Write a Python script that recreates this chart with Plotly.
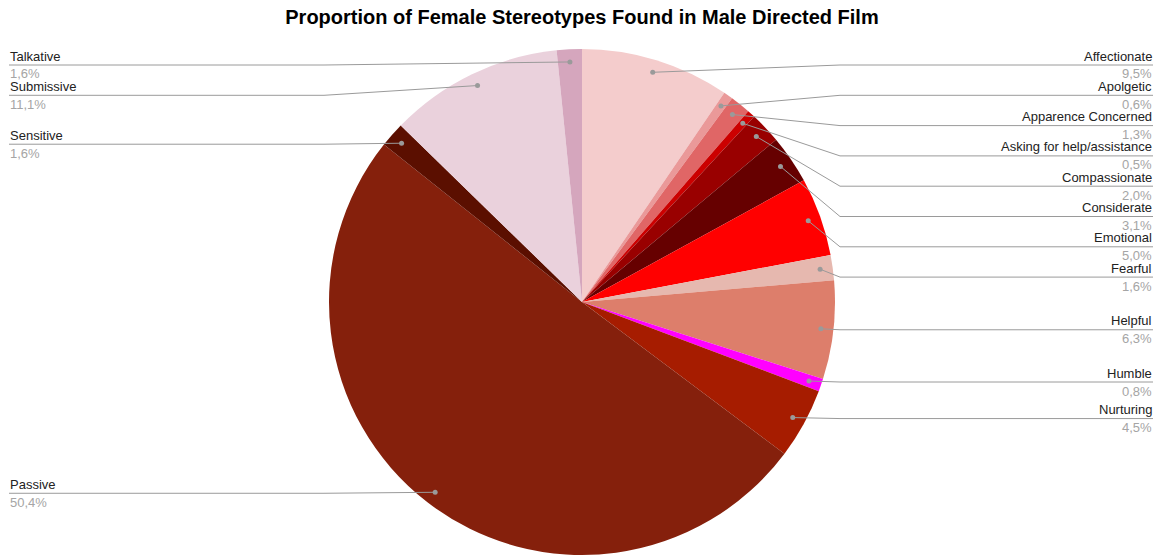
import math
import plotly.graph_objects as go

labels = ["Affectionate", "Apolgetic", "Apparence Concerned", "Asking for help/assistance",
          "Compassionate", "Considerate", "Emotional", "Fearful", "Helpful", "Humble",
          "Nurturing", "Passive", "Sensitive", "Submissive", "Talkative"]
values = [9.5, 0.6, 1.3, 0.5, 2.0, 3.1, 5.0, 1.6, 6.3, 0.8, 4.5, 50.4, 1.6, 11.1, 1.6]
value_text = ["9,5%", "0,6%", "1,3%", "0,5%", "2,0%", "3,1%", "5,0%", "1,6%",
              "6,3%", "0,8%", "4,5%", "50,4%", "1,6%", "11,1%", "1,6%"]
colors = ["#f4cccc", "#ea9999", "#e06666", "#cc0000", "#990000", "#660000", "#ff0000",
          "#e6b8af", "#dd7e6b", "#ff00ff", "#a61c00", "#85200c", "#5b0f00", "#ead1dc", "#d5a6bd"]

W, H = 1157, 558
cx, cy, R = 582, 302, 253   # pie centre / radius in pixels (from top-left)
FONT = "Liberation Sans, Arial, sans-serif"

def px(x):
    return x / W

def py(y):
    return 1 - y / H

fig = go.Figure(go.Pie(
    labels=labels, values=values, sort=False, direction="clockwise", rotation=0,
    marker=dict(colors=colors, line=dict(width=0)),
    textinfo="none", hoverinfo="label+percent", showlegend=False,
    domain=dict(x=[px(cx - R), px(cx + R)], y=[py(cy + R), py(cy - R)]),
))

# leader-line anchors: dot at 95% radius on each slice's mid angle
total = sum(values)
acc = 0
dots = []
for v in values:
    mid = (acc + v / 2) / total * 2 * math.pi
    acc += v
    dots.append((cx + 0.95 * R * math.sin(mid), cy - 0.95 * R * math.cos(mid), mid))

def spread(ideal, top=65, gap=30.3):
    # push overlapping labels apart, keeping groups centred on their ideals
    groups = [[y] for y in ideal]
    def start(g):
        return max(top, sum(g) / len(g) - (len(g) - 1) / 2 * gap)
    merged = True
    while merged:
        merged = False
        for i in range(len(groups) - 1):
            a, b = groups[i], groups[i + 1]
            if start(a) + len(a) * gap > start(b):
                groups[i] = a + b
                del groups[i + 1]
                merged = True
                break
    out = []
    for g in groups:
        s = start(g)
        out += [s + k * gap for k in range(len(g))]
    return out

right = [i for i, d in enumerate(dots) if d[2] < math.pi]
left = sorted([i for i, d in enumerate(dots) if d[2] >= math.pi], key=lambda i: dots[i][1])
line_y = {}
for side in (right, left):
    for i, y in zip(side, spread([dots[i][1] + 1 for i in side])):
        line_y[i] = y

shapes, annotations = [], []
for i in range(len(labels)):
    dx, dy, mid = dots[i]
    ly = line_y[i]
    if mid < math.pi:
        x_edge, x_bend, anchor = 1153, cx + R + 5, "right"
    else:
        x_edge, x_bend, anchor = 9, cx - R - 5, "left"
    shapes.append(dict(type="path", xref="paper", yref="paper", layer="above",
                       path=f"M{px(x_edge)},{py(ly)} L{px(x_bend)},{py(ly)} L{px(dx)},{py(dy)}",
                       line=dict(color="#9a9a9a", width=1)))
    shapes.append(dict(type="circle", xref="paper", yref="paper", layer="above",
                       x0=px(dx - 2.5), x1=px(dx + 2.5), y0=py(dy + 2.5), y1=py(dy - 2.5),
                       fillcolor="#9a9a9a", line=dict(width=0)))
    annotations.append(dict(text=labels[i], xref="paper", yref="paper", x=px(x_edge), y=py(ly - 0.5),
                            xanchor=anchor, yanchor="bottom", showarrow=False,
                            font=dict(family=FONT, size=13, color="#222222"), borderpad=0))
    annotations.append(dict(text=value_text[i], xref="paper", yref="paper", x=px(x_edge), y=py(ly + 0.5),
                            xanchor=anchor, yanchor="top", showarrow=False,
                            font=dict(family=FONT, size=13, color="#a5a5a5"), borderpad=0))

fig.update_layout(
    width=W, height=H, margin=dict(l=0, r=0, t=0, b=0),
    paper_bgcolor="white", plot_bgcolor="white",
    title=dict(text="<b>Proportion of Female Stereotypes Found in Male Directed Film</b>",
               x=px(cx), xanchor="center", y=py(17), yanchor="middle",
               font=dict(family=FONT, size=20, color="#000000")),
    shapes=shapes, annotations=annotations,
)

# drop the browser's default body margin so the figure fills the window exactly
fig.write_html("out.html", config={"displayModeBar": False},
               post_script="document.body.style.margin = '0';")
